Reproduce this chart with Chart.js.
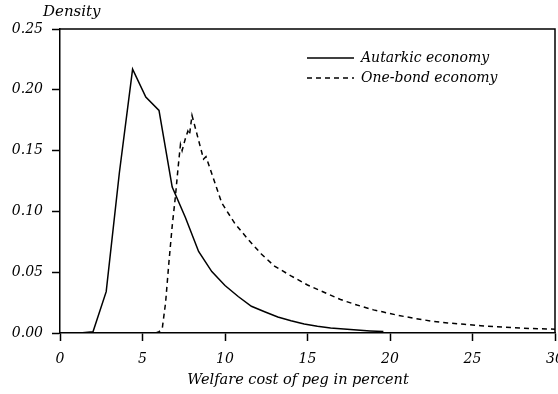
<!DOCTYPE html>
<html>
<head>
<meta charset="utf-8">
<script src="https://cdn.jsdelivr.net/npm/chart.js@4/dist/chart.umd.min.js"></script>
<style>
  html, body { margin: 0; padding: 0; background: #fff; }
  #wrap { width: 558px; height: 394px; }
</style>
</head>
<body>
<div id="wrap"><canvas id="chart" width="558" height="394"></canvas></div>
<script>
/* ---- Datos ---- */
const autarkicX = [0.4, 1.2, 2.0, 2.8, 3.6, 4.4, 5.2, 6.0, 6.8, 7.6, 8.4, 9.2, 10.0, 10.8, 11.6,
                   12.4, 13.2, 14.0, 14.8, 15.6, 16.4, 17.2, 18.0, 18.8, 19.6];
const autarkicY = [0, 0, 0.001, 0.034, 0.132, 0.217, 0.194, 0.183, 0.120, 0.095, 0.067, 0.0505, 0.039, 0.030, 0.022,
                   0.0175, 0.0132, 0.0101, 0.0074, 0.0055, 0.0042, 0.0032, 0.0024, 0.0017, 0.0012];

const oneBondX = [5.8, 6.0, 6.2, 6.4, 6.6, 6.8, 7.0, 7.15, 7.3, 7.4, 7.6, 7.75, 7.85, 8.0, 8.7, 8.85, 9.8,
                  10.6, 11.4, 12.2, 13.0, 14.0, 15.0, 16.0, 17.0, 18.0, 19.0, 19.6, 20.5, 21.5, 22.5,
                  23.5, 24.5, 25.5, 26.5, 27.5, 28.5, 29.5, 30.0];
const oneBondY = [0, 0.001, 0.004, 0.025, 0.058, 0.088, 0.113, 0.135, 0.155, 0.150, 0.160, 0.166, 0.163, 0.179, 0.143, 0.145, 0.107,
                  0.090, 0.077, 0.065, 0.055, 0.047, 0.0395, 0.0335, 0.0275, 0.023, 0.019, 0.0172, 0.0145, 0.012, 0.0098,
                  0.0083, 0.0071, 0.006, 0.0051, 0.0043, 0.0037, 0.0033, 0.0031];

const seriesLabels = ['Autarkic economy', 'One-bond economy'];
const xTicks = [0, 5, 10, 15, 20, 25, 30];
const yTicks = [0, 0.05, 0.10, 0.15, 0.20, 0.25];

const FONT = "'DejaVu Serif', serif";

function toPoints(xs, ys) {
  return xs.map((x, i) => ({ x: x, y: ys[i] }));
}

/* ---- Marco, leyenda y títulos ---- */
const framePlugin = {
  id: 'frame',
  afterDraw(chart) {
    const { ctx, chartArea: a } = chart;
    ctx.save();
    ctx.strokeStyle = '#000';
    ctx.lineWidth = 1.5;
    ctx.beginPath();
    ctx.moveTo(a.left, a.top);
    ctx.lineTo(a.right, a.top);
    ctx.lineTo(a.right, a.bottom);
    ctx.stroke();

    // Leyenda personalizada
    ctx.font = 'italic 14px ' + FONT;
    ctx.fillStyle = '#000';
    ctx.textBaseline = 'middle';
    chart.data.datasets.forEach((ds, i) => {
      const y = 58 + i * 20;
      ctx.setLineDash(ds.borderDash || []);
      ctx.lineWidth = 1.4;
      ctx.beginPath();
      ctx.moveTo(307, y);
      ctx.lineTo(354, y);
      ctx.stroke();
      ctx.setLineDash([]);
      ctx.fillText(ds.label, 361, y);
    });

    ctx.font = 'italic 15px ' + FONT;
    ctx.textAlign = 'left';
    ctx.fillText('Density', 43, 12);

    ctx.font = 'italic 14.5px ' + FONT;
    ctx.textAlign = 'center';
    ctx.fillText('Welfare cost of peg in percent', 298, 380);
    ctx.restore();
  }
};

new Chart(document.getElementById('chart'), {
  type: 'line',
  data: {
    datasets: [
      {
        label: seriesLabels[0],
        data: toPoints(autarkicX, autarkicY),
        borderColor: '#000',
        borderWidth: 1.5,
        pointRadius: 0,
        tension: 0,
        fill: false,
      },
      {
        label: seriesLabels[1],
        data: toPoints(oneBondX, oneBondY),
        borderColor: '#000',
        borderWidth: 1.5,
        borderDash: [5, 4],
        pointRadius: 0,
        tension: 0,
        fill: false,
      },
    ],
  },
  options: {
    responsive: false,
    animation: false,
    devicePixelRatio: 1,
    layout: { padding: { left: 0, top: 29, right: 3, bottom: 0 } },
    plugins: {
      legend: { display: false },
      tooltip: { enabled: false },
    },
    scales: {
      x: {
        type: 'linear',
        min: 0,
        max: 30,
        afterBuildTicks: s => { s.ticks = xTicks.map(v => ({ value: v })); },
        afterFit: s => { s.height = 61; s.paddingLeft = 0; s.paddingRight = 0; },
        grid: { drawOnChartArea: false, drawTicks: true, tickLength: 8, tickColor: '#000', tickWidth: 1.5 },
        border: { display: true, color: '#000', width: 1.5 },
        ticks: {
          color: '#000',
          padding: 10,
          maxRotation: 0,
          font: { family: FONT, style: 'italic', size: 14 },
          callback: v => String(v),
        },
      },
      y: {
        min: 0,
        max: 0.25,
        afterBuildTicks: s => { s.ticks = yTicks.map(v => ({ value: v })); },
        afterFit: s => { s.width = 60; s.paddingTop = 0; s.paddingBottom = 0; },
        grid: { drawOnChartArea: false, drawTicks: true, tickLength: 8, tickColor: '#000', tickWidth: 1.5 },
        border: { display: true, color: '#000', width: 1.5 },
        ticks: {
          color: '#000',
          padding: 9,
          font: { family: FONT, style: 'italic', size: 14 },
          callback: v => v.toFixed(2),
        },
      },
    },
  },
  plugins: [framePlugin],
});
</script>
</body>
</html>
